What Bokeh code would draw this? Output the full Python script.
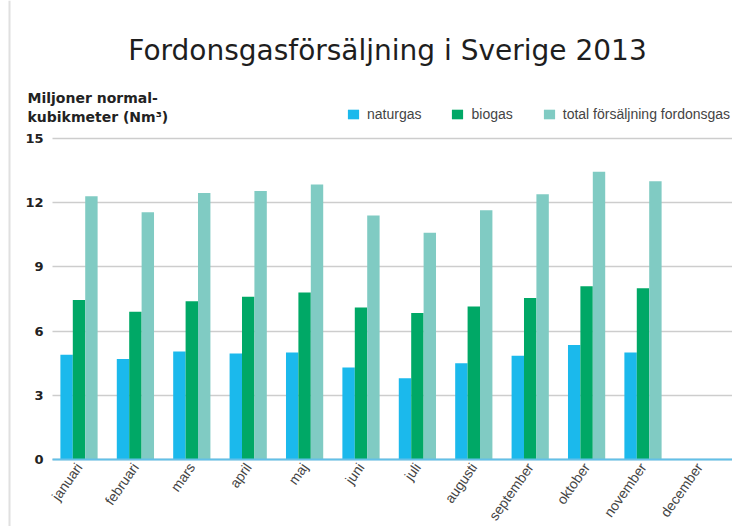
import numpy as np
from bokeh.plotting import figure
from bokeh.models import (ColumnDataSource, Range1d, Legend, LegendItem, Label,
                          FixedTicker, Span)
from bokeh.transform import dodge
from bokeh.embed import file_html
from bokeh.resources import INLINE

# ---- data ----
months = ["januari", "februari", "mars", "april", "maj", "juni", "juli",
          "augusti", "september", "oktober", "november", "december"]
naturgas = [4.9, 4.7, 5.05, 4.95, 5.0, 4.3, 3.8, 4.5, 4.85, 5.35, 5.0, np.nan]
biogas = [7.45, 6.9, 7.4, 7.6, 7.8, 7.1, 6.85, 7.15, 7.55, 8.1, 8.0, np.nan]
total = [12.3, 11.55, 12.45, 12.55, 12.85, 11.4, 10.6, 11.65, 12.4, 13.45, 13.0, np.nan]
y_ticks = [0, 3, 6, 9, 12, 15]
series_names = ["naturgas", "biogas", "total försäljning fordonsgas"]
title_text = "Fordonsgasförsäljning i Sverige 2013"
ylabel_lines = ["Miljoner normal-", "kubikmeter (Nm³)"]

colors = ["#1bb9ec", "#00a866", "#80cbc3"]
FONT = "Liberation Sans"
BOLD_FONT = "DejaVu Sans"

pos = list(range(len(months)))
src = ColumnDataSource(dict(pos=pos, month=months, naturgas=naturgas,
                            biogas=biogas, total=total))

X0, X1 = -1.392, 11.587      # visible x extent (category units)
AX0 = -0.47                  # where the axis / grid start
p = figure(x_range=Range1d(X0, X1), y_range=Range1d(-3.131, 21.449),
           width=732, height=526, output_backend="svg", toolbar_location=None,
           min_border_left=0, min_border_right=0, min_border_top=0, min_border_bottom=0)
p.outline_line_color = None
p.background_fill_color = "white"
p.border_fill_color = "white"

w = 0.22
r1 = p.vbar(x=dodge("pos", -w), top="naturgas", width=w, source=src,
            fill_color=colors[0], line_color=None)
r2 = p.vbar(x=dodge("pos", 0), top="biogas", width=w, source=src,
            fill_color=colors[1], line_color=None)
r3 = p.vbar(x=dodge("pos", w), top="total", width=w, source=src,
            fill_color=colors[2], line_color=None)

# grid
p.xgrid.grid_line_color = None
p.ygrid.grid_line_color = "#cdcdcd"
p.ygrid.grid_line_width = 1.5
p.ygrid.cross_bounds = (AX0, X1)

# y axis (drawn inside the frame)
p.yaxis.fixed_location = AX0
p.yaxis.ticker = FixedTicker(ticks=y_ticks)
p.yaxis.bounds = (0, 15)
p.yaxis.axis_line_color = None
p.yaxis.major_tick_line_color = None
p.yaxis.minor_tick_line_color = None
p.yaxis.major_tick_out = 0
p.yaxis.major_tick_in = 0
p.yaxis.major_label_text_font = BOLD_FONT
p.yaxis.major_label_text_font_style = "bold"
p.yaxis.major_label_text_font_size = "13px"
p.yaxis.major_label_text_color = "#222222"
p.yaxis.major_label_standoff = 9

# x axis (drawn at y = 0)
p.xaxis.fixed_location = 0
p.xaxis.bounds = (AX0, X1)
p.xaxis.ticker = FixedTicker(ticks=pos)
p.xaxis.major_label_overrides = {i: m for i, m in zip(pos, months)}
p.xaxis.axis_line_color = "#63c0e8"
p.xaxis.axis_line_width = 2
p.xaxis.major_tick_line_color = None
p.xaxis.minor_tick_line_color = None
p.xaxis.major_tick_out = 0
p.xaxis.major_tick_in = 0
p.xaxis.major_label_orientation = 0.96
p.xaxis.major_label_text_font = FONT
p.xaxis.major_label_text_font_size = "14px"
p.xaxis.major_label_text_color = "#444444"
p.xaxis.major_label_standoff = 5

# legend
legend = Legend(items=[LegendItem(label=series_names[0], renderers=[r1]),
                       LegendItem(label=series_names[1], renderers=[r2]),
                       LegendItem(label=series_names[2], renderers=[r3])],
                orientation="horizontal", location=(346, 404),
                padding=0, margin=0, spacing=29, label_standoff=7,
                glyph_width=14, glyph_height=12, label_height=14,
                border_line_color=None, background_fill_alpha=0,
                label_text_font=FONT, label_text_font_size="14px",
                label_text_color="#444444")
p.add_layout(legend, "center")

# title & y-axis label
p.add_layout(Label(x=387, y=476, x_units="screen", y_units="screen", text=title_text,
                   text_align="center", text_baseline="alphabetic",
                   text_font=BOLD_FONT, text_font_size="28px", text_color="#1e1e1e"))
p.add_layout(Label(x=27, y=429, x_units="screen", y_units="screen", text=ylabel_lines[0],
                   text_align="left", text_baseline="alphabetic", text_font=BOLD_FONT,
                   text_font_style="bold", text_font_size="14px", text_color="#222222"))
p.add_layout(Label(x=27, y=410, x_units="screen", y_units="screen", text=ylabel_lines[1],
                   text_align="left", text_baseline="alphabetic", text_font=BOLD_FONT,
                   text_font_style="bold", text_font_size="14px", text_color="#222222"))

# faint left border of the original graphic
p.add_layout(Span(location=9, location_units="screen", dimension="height",
                  line_color="#e0e0e0", line_width=2))

open("out.html", "w").write(file_html(p, INLINE))
